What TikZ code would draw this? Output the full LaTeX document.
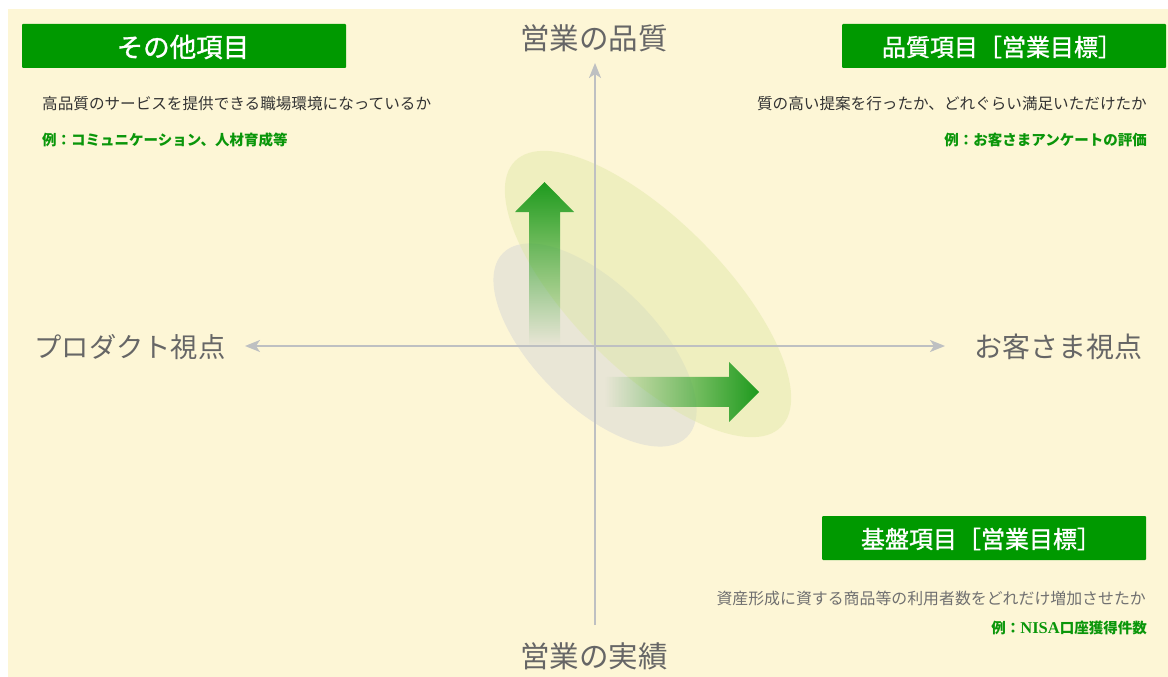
\documentclass[tikz,border=0pt]{standalone}
\usepackage{fontspec}
\setmainfont{Noto Sans CJK JP}
\newfontfamily\jpmed[FakeBold=1.2]{Noto Sans CJK JP}
\newfontfamily\latinbf{Liberation Serif}
\usetikzlibrary{arrows.meta,fadings}
\definecolor{cream}{HTML}{FDF6D6}
\definecolor{boxgreen}{HTML}{009900}
\definecolor{txtgreen}{HTML}{0A960A}
\definecolor{arrgreen}{HTML}{1E9A1E}
\definecolor{ellgreen}{HTML}{DDE6A0}
\definecolor{ellgray}{HTML}{E9E6D6}
\definecolor{axisgray}{HTML}{BEC0C2}
\definecolor{labgray}{HTML}{666666}
\definecolor{bodydark}{HTML}{333333}
\definecolor{bodygray}{HTML}{707070}
\tikzfading[name=fadeup, top color=transparent!0, bottom color=transparent!100]
\tikzfading[name=fadeleft, right color=transparent!0, left color=transparent!100]
\begin{document}
\begin{tikzpicture}[x=1pt,y=1pt,
  titlebox/.style={fill=boxgreen, rounded corners=1pt, minimum width=324pt, minimum height=44pt, inner sep=0pt},
  titletext/.style={text=white, font=\jpmed\fontsize{24}{24}\selectfont, inner sep=0pt},
  bodytext/.style={text=bodydark, font=\fontsize{15.6}{15.6}\selectfont, inner sep=0pt},
  greentext/.style={text=txtgreen, font=\bfseries\fontsize{14.5}{14.5}\selectfont, inner sep=0pt},
  axislabel/.style={text=labgray, font=\fontsize{28}{28}\selectfont, inner sep=0pt},
  axisline/.style={draw=axisgray, line width=2pt},
  axistip/.style={-{Stealth[length=15pt,width=12pt,inset=4pt]}}
]
\useasboundingbox (0,0) rectangle (1168,-677);
\fill[cream] (8,-9) rectangle (1168,-677);

% ellipses
\fill[ellgray, rotate around={-45:(595,-345)}] (595,-345) ellipse [x radius=130pt, y radius=61pt];
\fill[ellgreen, opacity=0.42, rotate around={-45:(648,-294)}] (648,-294) ellipse [x radius=188pt, y radius=75pt];

% axes
\coordinate (O) at (595,-346);
\coordinate (top) at (595,-63);
\coordinate (bot) at (595,-625);
\coordinate (left) at (245,-346);
\coordinate (right) at (945,-346);
\draw[axisline, axistip] (bot) -- (top);
\draw[axisline, axistip] (O) -- (left);
\draw[axisline, axistip] (O) -- (right);

% gradient arrows
\fill[arrgreen, path fading=fadeup]
  (529,-345) -- (529,-212) -- (515,-212) -- (544.5,-182) -- (574,-212) -- (560,-212) -- (560,-345) -- cycle;
\fill[arrgreen, path fading=fadeleft]
  (605,-377) -- (729,-377) -- (729,-362) -- (759,-392) -- (729,-422) -- (729,-407) -- (605,-407) -- cycle;

% axis labels
\node[axislabel, font=\fontsize{29.5}{30}\selectfont] (q) at (594,-38) {営業の品質};
\node[axislabel, font=\fontsize{29.5}{30}\selectfont] (r) at (594,-656) {営業の実績};
\node[axislabel, font=\fontsize{27.3}{28}\selectfont] (p) at (130,-347) {プロダクト視点};
\node[axislabel] (c) at (1058,-347) {お客さま視点};

% top-left
\node[titlebox] (b1) at (184,-46) {};
\node[titletext, font=\jpmed\fontsize{26.5}{27}\selectfont] (t1) at (183,-47) {その他項目};
\node[bodytext, anchor=west] (d1) at (42,-104) {高品質のサービスを提供できる職場環境になっているか};
\node[greentext, anchor=west] (e1) at (42,-140) {例：コミュニケーション、人材育成等};

% top-right
\node[titlebox] (b2) at (1004,-46) {};
\node[titletext] (t2) at (1002,-47) {品質項目［営業目標］};
\node[bodytext, anchor=east] (d2) at (1147,-104) {質の高い提案を行ったか、どれぐらい満足いただけたか};
\node[greentext, anchor=east] (e2) at (1147,-140) {例：お客さまアンケートの評価};

% bottom-right
\node[titlebox] (b3) at (984,-538) {};
\node[titletext] (t3) at (981,-539) {基盤項目［営業目標］};
\node[bodytext, text=bodygray, font=\fontsize{15.9}{16}\selectfont, anchor=east] (d3) at (1146,-598) {資産形成に資する商品等の利用者数をどれだけ増加させたか};
\node[greentext, anchor=east] (e3) at (1147,-628) {例：{\latinbf\bfseries\fontsize{16.5}{16.5}\selectfont NISA}口座獲得件数};
\end{tikzpicture}
\end{document}
